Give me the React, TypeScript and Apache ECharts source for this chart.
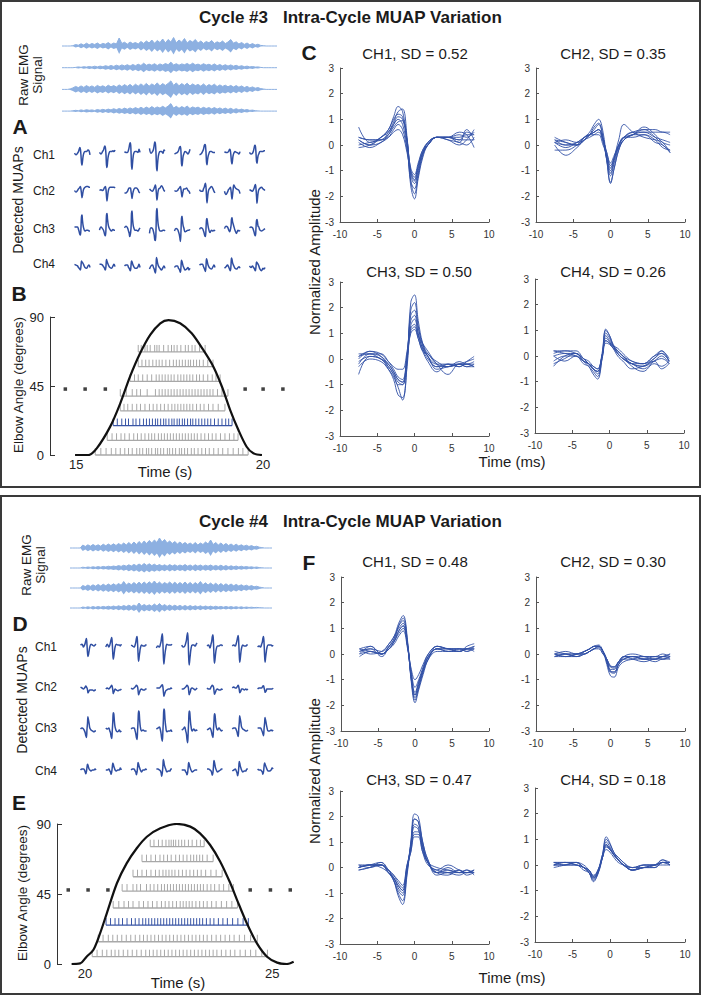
import React, { useEffect, useRef } from "react";
import * as echarts from "echarts";

const FONT = "'Liberation Sans', Arial, Helvetica, sans-serif";
const EMG_COLOR = "#8DB0E1";
const MUAP_COLOR = "#2F4EA2";
const TRACE_COLOR = "#3150A6";
const GRAY_SPIKE = "#A8A8A8";
const BLUE_SPIKE = "#3A56A6";
const AXIS_COLOR = "#555";

// ---------------- shared time base of every MUAP waveform (ms) ----------------
const WAVE_T = [-7.5, -6, -4.5, -3.5, -2.8, -2.2, -1.6, -1, -0.5, 0, 0.5, 1.1, 1.8, 3, 4.5, 6, 7, 8];

// ================= CYCLE #3 =================
const C3_SD = ["0.52", "0.35", "0.50", "0.26"];
// raw EMG half-amplitude envelopes (px), one sample every ~2.7 px
const C3_EMG1 = [0,0,0,0,0.3,1.5,0.8,2.2,1,2.8,1.2,2.5,1.5,3,1.2,2.6,1.8,3.4,1.5,3,2,8,2.5,3.8,1.8,4,2.4,3.5,2,4.5,2.6,5,3,6,2.8,5.5,3.5,7,3,6.5,4,8.5,3.2,6,3.8,7.5,3,5.5,4,6.5,3,5,2.6,4.5,3.2,5.5,2.5,4.2,3,5,2.4,4,6.5,2.8,4.2,2,3.5,1.6,3,1.2,2.4,1,1.8,0.6,0.3,0,0,0,0,0];
const C3_EMG2 = [0,0,0,0,0,0.3,0.8,0.4,1,0.6,1.2,0.7,1.5,0.8,1.6,1,2,1.2,2.2,1.3,2.5,1.5,2.8,1.8,3,1.6,3.2,2,3.5,2.2,4.5,2.4,3.6,2.5,4,2.2,3.8,2.6,4.2,3,5.5,2.8,4,2.5,3.8,3,4.2,2.6,4.5,2.8,3.6,2.4,4,2.6,3.5,2.2,3.8,2,3.2,1.8,3,1.6,2.8,1.5,2.4,1.2,2,1,1.6,0.8,1.2,0.6,0.8,0.3,0,0,0,0,0,0];
const C3_EMG3 = [0,0,0,0.5,1.5,3,1.8,3.5,2,3.8,2.2,3.5,2,4,2.5,3.6,2.2,4.2,2.6,3.8,2.4,4.5,2.8,4.8,3,5,2.8,5.2,3.2,5.5,3.5,6,3.2,5.5,3.8,6.5,3.5,5.8,4,6,8.5,4,6.5,3.6,5.8,4,6.2,3.4,5.5,3.8,5,3.2,5.5,3,4.8,3.5,5.2,2.8,4.5,3,4.2,2.6,4,2.4,3.8,2.2,3.5,1.8,3,1.5,2.5,1.2,1.8,0.8,0.4,0,0,0,0,0];
const C3_EMG4 = [0,0,0,0,0.3,0.8,0.4,1.2,0.6,1.4,0.8,1.2,0.6,1.6,0.9,1.8,1,2,1.2,2.4,1.4,2.6,1.6,3,1.8,3.2,2,3.5,2.2,3.8,2.4,4,2.6,4.5,2.8,4.2,3,4.8,3.2,5,7.5,3,4.8,2.8,4.5,3.2,5,2.6,4.2,3,4,2.4,3.8,2.6,3.5,2.2,3.6,2,3.2,1.8,3,1.6,2.8,1.4,2.4,1.2,2,1,1.5,0.7,1,0.4,0.2,0,0,0,0,0,0,0];

const C3_CH1 = [
  [0.1,-0.1,0.1,0.3,0.6,0.8,0.6,-0.2,-1.1,-1.4,-0.9,-0.3,0.1,0.3,0.3,0.5,0.4,-0.1],
  [0.2,0.0,0.3,0.5,0.8,1.0,0.8,-0.1,-1.4,-1.7,-1.1,-0.4,0.0,0.3,0.3,0.4,0.3,0.5],
  [0.3,0.2,0.2,0.5,0.9,1.3,1.4,0.3,-1.4,-1.9,-1.2,-0.4,0.1,0.3,0.3,0.2,0.6,0.2],
  [0.7,0.1,0.3,0.6,1.1,1.5,1.3,0.1,-1.6,-2.1,-1.3,-0.5,0.0,0.3,0.3,0.1,0.5,0.4],
  [0.0,0.1,0.2,0.4,0.7,0.9,0.95,0.2,-1.2,-1.5,-1.0,-0.3,0.0,0.3,0.2,0.0,0.2,0.6],
  [-0.1,0.0,0.3,0.6,1.0,1.2,1.1,0.2,-1.0,-1.35,-0.8,-0.3,0.0,0.3,0.3,0.2,0.2,0.2],
  [0.3,0.2,0.2,0.3,0.5,0.6,0.4,-0.3,-1.0,-1.25,-0.8,-0.2,0.1,0.3,0.2,0.1,0.0,0.3],
  [0.2,0.0,0.1,0.4,0.8,1.1,1.0,0.1,-0.9,-1.15,-0.7,-0.2,0.0,0.3,0.3,0.3,0.4,0.4],
];
const C3_CH2 = [
  [0.1,-0.1,0.1,0.3,0.4,0.5,0.6,0.2,-0.3,-0.8,-0.5,0.0,0.3,0.5,0.6,0.6,0.5,0.5],
  [0.1,0.2,0.1,0.2,0.4,0.5,0.6,0.2,-0.6,-1.2,-0.7,-0.1,0.3,0.5,0.5,0.5,0.5,0.4],
  [-0.2,-0.2,0.0,0.3,0.4,0.4,0.4,0.0,-0.4,-0.9,-0.5,-0.1,0.2,0.4,0.4,0.2,-0.1,-0.2],
  [0.3,0.1,0.0,0.2,0.4,0.6,0.8,0.3,-0.5,-1.1,-0.6,0.0,0.3,0.4,0.7,0.4,0.1,0.0],
  [0.1,0.0,0.1,0.3,0.4,0.5,0.6,0.2,-0.3,-0.7,-0.4,0.0,0.3,0.3,0.4,0.1,0.0,-0.3],
  [0.2,0.0,0.0,0.3,0.5,0.8,1.0,0.5,-0.6,-1.45,-0.9,-0.2,0.2,0.4,0.6,0.3,0.0,-0.2],
  [0.0,-0.4,-0.1,0.2,0.3,0.4,0.5,0.1,-0.5,-1.0,-0.5,0.2,0.8,0.5,0.3,0.2,0.1,-0.3],
  [0.2,0.1,0.0,0.2,0.4,0.7,0.85,0.3,-0.6,-1.5,-0.9,-0.2,0.2,0.4,0.5,0.3,0.2,0.1],
];
const C3_CH3 = [
  [0.2,0.2,0.2,-0.1,-0.4,-0.7,-0.8,0.2,1.5,1.7,1.0,0.4,0.0,-0.3,-0.2,-0.2,-0.3,-0.3],
  [-0.2,0.2,0.0,-0.2,-0.5,-0.8,-0.9,0.1,1.7,1.9,1.2,0.6,0.2,-0.1,-0.3,-0.1,-0.2,-0.2],
  [0.1,0.3,0.1,-0.3,-0.6,-1.0,-1.0,0.0,1.9,2.2,1.3,0.5,0.1,-0.2,-0.2,-0.3,-0.1,0.1],
  [-0.6,0.1,0.0,-0.4,-0.8,-1.4,-1.5,-0.2,2.2,2.5,1.5,0.6,0.1,-0.3,-0.3,-0.2,-0.2,-0.3],
  [-0.3,0.0,-0.1,-0.4,-0.7,-1.1,-1.6,-0.3,1.3,1.55,1.0,0.4,0.1,-0.4,-0.3,-0.2,-0.2,-0.1],
  [-0.1,0.1,0.0,-0.3,-0.6,-0.9,-1.0,0.0,1.1,1.25,0.8,0.3,-0.1,-0.5,-0.2,-0.3,-0.2,-0.3],
  [0.0,0.3,0.2,-0.1,-0.3,-0.4,-0.4,0.3,1.2,1.35,0.9,0.6,0.3,-0.2,-0.6,-0.2,-0.3,-0.2],
  [0.1,0.2,0.1,-0.2,-0.5,-0.8,-0.9,0.1,1.0,1.15,0.8,0.3,0.2,-0.2,-0.3,-0.2,-0.1,0.0],
];
const C3_CH4 = [
  [0.2,0.1,0.0,-0.2,-0.3,-0.4,-0.5,0.0,0.6,0.5,0.4,0.3,0.1,-0.2,-0.3,0.0,0.1,-0.2],
  [0.2,0.2,0.1,-0.1,-0.2,-0.4,-0.5,0.0,0.8,0.6,0.4,0.2,0.0,-0.2,-0.3,0.0,0.2,-0.1],
  [0.0,0.1,0.1,-0.2,-0.3,-0.5,-0.6,0.0,0.6,0.5,0.3,0.1,-0.1,-0.3,-0.3,-0.1,0.2,-0.2],
  [-0.4,0.0,0.1,-0.2,-0.4,-0.7,-0.9,-0.1,1.05,0.8,0.4,0.1,-0.1,-0.3,-0.5,-0.2,0.0,-0.3],
  [-0.2,0.0,0.0,-0.3,-0.4,-0.6,-0.8,-0.1,0.7,0.55,0.3,0.0,-0.2,-0.5,-0.4,-0.2,-0.5,-0.3],
  [0.1,0.2,0.2,-0.1,-0.3,-0.5,-0.7,0.0,0.9,0.7,0.4,0.1,-0.1,-0.3,-0.4,-0.1,0.1,-0.2],
  [-0.3,-0.1,0.1,-0.1,-0.3,-0.5,-0.6,0.1,1.0,0.8,0.45,0.2,0.0,-0.3,-0.4,-0.2,-0.1,-0.3],
  [0.0,-0.2,0.0,-0.2,-0.3,-0.5,-0.6,-0.1,0.5,0.45,0.3,0.2,0.0,-0.4,-0.6,-0.3,-0.4,-0.2],
];

const C3_ANGLE_T = [14.97,15.33,15.55,15.91,16.18,16.44,16.71,16.98,17.25,17.47,17.78,18.09,18.40,18.67,18.90,19.12,19.34,19.56,19.74,19.97];
const C3_ANGLE_V = [0,0,4.3,18.5,33.7,51.1,66.3,78.3,85.9,88.0,85.9,79.4,68.5,57.6,44.5,29.3,16.3,5.4,1.1,0];
const C3_DOT_T = [14.71,15.24,15.78,19.52,20.0,20.53];
const C3_DOT_V = 43;
const C3_XTICKS = [15, 20];
const C3_ROW_LEVEL = [0, 9.6, 19.2, 28.8, 38.4, 48, 57.6, 67.2];
const C3_ROW0 = [15.51,15.66,15.80,15.94,16.06,16.18,16.30,16.40,16.50,16.62,16.70,16.78,16.88,16.94,17.02,17.12,17.18,17.26,17.34,17.44,17.50,17.58,17.66,17.76,17.82,17.90,17.98,18.08,18.16,18.26,18.36,18.46,18.56,18.68,18.80,18.92,19.06,19.20,19.34,19.46,19.60];
const C3_ROW1 = [15.83,15.96,16.08,16.20,16.30,16.42,16.54,16.64,16.74,16.84,16.94,17.02,17.10,17.20,17.28,17.36,17.44,17.52,17.60,17.68,17.76,17.84,17.92,18.00,18.08,18.16,18.24,18.34,18.44,18.54,18.64,18.74,18.86,18.98,19.10,19.22,19.33];
const C3_ROW2 = [15.99,16.10,16.22,16.32,16.40,16.52,16.60,16.70,16.80,16.88,16.96,17.04,17.12,17.18,17.26,17.34,17.40,17.48,17.56,17.62,17.70,17.76,17.84,17.90,17.98,18.06,18.12,18.20,18.28,18.36,18.44,18.52,18.60,18.70,18.80,18.90,19.00,19.08,19.17];
const C3_ROW3 = [16.18,16.28,16.38,16.50,16.62,16.72,16.84,16.96,17.06,17.16,17.26,17.36,17.46,17.56,17.64,17.72,17.80,17.88,17.96,18.04,18.12,18.22,18.32,18.42,18.54,18.66,18.80,18.98];
const C3_ROW4 = [16.18,16.34,16.50,16.62,16.72,16.90,17.12,17.22,17.30,17.38,17.46,17.54,17.62,17.70,17.78,17.86,17.94,18.02,18.10,18.18,18.26,18.34,18.42,18.50,18.58,18.66,18.78,18.90,19.06];
const C3_ROW5 = [16.44,16.56,16.66,16.78,16.90,17.02,17.14,17.22,17.30,17.38,17.46,17.54,17.62,17.72,17.80,17.88,17.96,18.04,18.12,18.22,18.30,18.40,18.52,18.64,18.74,18.85];
const C3_ROW6 = [16.66,16.76,16.86,16.95,17.05,17.14,17.22,17.30,17.40,17.50,17.60,17.68,17.76,17.84,17.92,18.00,18.06,18.14,18.22,18.30,18.40,18.52,18.66];
const C3_ROW7 = [16.66,16.74,16.84,16.90,16.98,17.10,17.16,17.22,17.34,17.46,17.55,17.62,17.70,17.80,17.92,18.00,18.10,18.18,18.30,18.45];

// ================= CYCLE #4 =================
const C4_SD = ["0.48", "0.30", "0.47", "0.18"];
const C4_EMG1 = [0,0,0,0,0,3,1.5,3.2,1.8,3.5,2,3.2,1.8,3.8,2.2,4,2.4,4.2,2.5,4.5,2.8,5,3,5.5,3.2,6,3.5,6.5,4,7,4.5,7.5,5,8,5.5,10,6,8.5,5,7,4.5,6.5,4,6,3.8,5.5,3.5,5,3.2,5.5,3,5,3.5,6,4,8,3.5,5.5,3,5,2.8,4.5,2.5,4,2.2,3.8,2,3.2,1.8,2.8,1.5,2.4,1.2,1.8,0.8,0.4,0,0,0,0];
const C4_EMG2 = [0,0,0,0,0,0.8,0.4,1,0.6,1.2,0.7,1.4,0.8,1.6,1,1.8,1.2,2,1.4,2.4,1.6,2.8,1.8,3.2,2,3.6,2.2,4,2.4,4.5,2.6,4.2,2.4,3.8,2.2,3.5,2,3.2,1.8,3.4,2,3.2,1.8,3,2,3.4,1.8,3,1.6,3.2,1.8,3,1.6,2.8,1.8,3,1.6,2.6,1.5,2.8,1.4,2.4,1.2,2.2,1.2,2,1,1.8,0.9,1.5,0.8,1.2,0.6,1,0.4,0.2,0,0,0,0];
const C4_EMG3 = [0,0,0,0,0,2.5,1.4,3,1.6,3.2,1.8,3.5,2,3.8,2.2,4,2.4,4.2,2.6,4.5,2.8,6.5,3,5,3.2,5.5,3.4,5.8,3.6,6,3.8,6.2,4,7,3.8,6,3.5,5.5,3.8,6,3.6,5.8,3.4,5.5,3.6,6,3.4,5.6,3.2,5.4,3.4,6.5,3.2,5.2,3,5,2.8,4.8,2.6,4.5,2.5,4.2,2.4,4,2.2,3.6,2,3.2,1.8,2.8,1.5,2.4,1.2,1.8,0.9,0.5,0,0,0,0];
const C4_EMG4 = [0,0,0,0,0,1,0.5,1.2,0.6,1.4,0.7,1.5,0.8,1.6,0.9,1.8,1,2,1.1,2.2,1.2,2.5,1.4,2.8,1.5,3,1.6,5,1.8,3.5,2,3.2,1.8,4,2,4.5,1.8,3.4,1.6,3,1.5,2.8,1.4,2.6,1.3,2.5,1.2,2.4,1.2,2.2,1.1,2.2,1,2,1,1.9,0.9,1.8,0.9,1.6,0.8,1.5,0.8,1.4,0.7,1.3,0.6,1.2,0.5,1,0.5,0.8,0.4,0.6,0.3,0.2,0,0,0,0];

const C4_CH1 = [
  [0.2,0.3,0.0,0.2,0.4,0.7,0.9,0.2,-0.6,-1.0,-0.8,-0.4,0.0,0.3,0.2,0.1,0.2,0.3],
  [0.0,0.3,0.0,0.2,0.5,0.8,1.0,0.3,-0.7,-1.3,-1.0,-0.5,0.0,0.3,0.2,0.2,0.1,0.3],
  [0.2,0.1,0.0,0.2,0.5,0.9,1.1,0.3,-0.8,-1.5,-1.1,-0.6,-0.1,0.2,0.1,0.1,0.2,0.2],
  [-0.1,0.1,0.0,0.3,0.6,1.1,1.4,0.4,-1.0,-1.8,-1.3,-0.7,-0.2,0.3,0.2,0.2,0.2,0.3],
  [0.2,0.0,0.1,0.4,0.7,1.2,1.5,0.5,-1.1,-1.9,-1.4,-0.8,-0.2,0.2,0.2,0.1,0.3,0.4],
  [0.1,0.2,-0.1,0.3,0.6,1.1,1.3,0.4,-1.0,-1.7,-1.3,-0.7,-0.2,0.1,0.1,0.2,0.2,0.1],
  [0.1,0.2,0.1,0.4,0.7,1.0,1.2,0.3,-0.9,-1.6,-1.2,-0.6,-0.1,0.2,0.1,0.1,0.2,0.2],
  [0.0,0.1,0.0,0.3,0.5,0.9,1.1,0.3,-0.9,-1.6,-1.1,-0.6,-0.1,0.2,0.2,0.2,0.1,0.2],
];
const C4_CH2 = [
  [0.1,0.0,-0.1,0.0,0.1,0.2,0.2,0.0,-0.2,-0.5,-0.55,-0.3,-0.2,-0.2,-0.2,-0.3,-0.2,-0.2],
  [-0.1,0.0,-0.1,0.0,0.1,0.2,0.3,0.1,-0.2,-0.6,-0.6,-0.3,-0.1,-0.2,-0.3,-0.2,-0.2,-0.1],
  [0.0,-0.1,0.0,0.1,0.2,0.3,0.3,0.1,-0.3,-0.7,-0.75,-0.4,-0.2,-0.1,-0.2,-0.2,-0.1,-0.1],
  [0.0,0.0,0.0,0.1,0.2,0.3,0.35,0.1,-0.4,-0.85,-0.9,-0.5,-0.3,-0.2,-0.1,-0.1,0.0,-0.1],
  [-0.1,-0.1,0.0,0.1,0.2,0.3,0.3,0.1,-0.3,-0.7,-0.7,-0.4,-0.1,0.0,-0.1,-0.2,-0.1,0.0],
  [0.0,-0.1,-0.1,0.1,0.2,0.3,0.3,0.1,-0.3,-0.65,-0.7,-0.4,-0.2,-0.1,-0.2,-0.2,-0.1,-0.2],
  [0.0,0.1,0.0,0.0,0.1,0.2,0.3,0.1,-0.2,-0.5,-0.5,-0.3,-0.1,-0.1,-0.2,-0.1,-0.2,-0.1],
  [-0.1,0.0,0.0,0.0,0.1,0.2,0.25,0.0,-0.2,-0.45,-0.5,-0.3,-0.1,-0.1,-0.1,-0.1,-0.1,0.0],
];
const C4_CH3 = [
  [0.0,0.1,0.0,-0.2,-0.4,-0.7,-0.9,0.0,0.6,1.3,1.3,0.6,0.1,-0.1,-0.2,-0.3,-0.2,-0.2],
  [0.1,0.0,0.1,-0.2,-0.4,-0.8,-1.0,-0.1,0.8,1.7,1.6,0.8,0.2,-0.2,-0.3,-0.1,-0.3,-0.2],
  [0.0,0.1,0.1,-0.2,-0.5,-0.9,-1.1,-0.1,0.9,1.9,1.8,0.9,0.2,-0.2,-0.1,-0.2,-0.2,-0.2],
  [0.0,0.1,0.2,-0.1,-0.5,-1.0,-1.3,-0.2,1.0,2.1,2.0,1.0,0.3,-0.3,-0.2,-0.2,-0.1,-0.3],
  [-0.1,0.0,0.2,-0.2,-0.5,-1.1,-1.45,-0.3,0.9,1.9,1.8,1.0,0.3,-0.2,0.0,-0.2,-0.1,-0.2],
  [-0.1,0.0,0.1,-0.1,-0.4,-0.7,-0.9,0.0,0.8,1.6,1.5,0.8,0.2,-0.1,0.1,-0.1,-0.2,-0.1],
  [0.0,0.1,0.1,-0.1,-0.3,-0.6,-0.8,0.1,0.7,1.4,1.4,0.7,0.2,0.0,-0.1,-0.2,-0.2,-0.1],
  [0.1,0.1,0.1,-0.1,-0.3,-0.5,-0.7,0.1,0.6,1.2,1.2,0.6,0.2,-0.2,-0.2,-0.1,-0.2,-0.1],
];
const C4_CH4 = [
  [0.0,0.1,0.1,0.0,-0.2,-0.4,-0.2,0.3,0.6,0.5,0.3,0.1,0.0,-0.1,0.0,0.0,0.1,0.0],
  [0.0,0.0,0.1,-0.1,-0.2,-0.45,-0.2,0.3,0.7,0.6,0.4,0.2,0.0,-0.1,0.0,0.0,0.2,0.0],
  [0.0,0.1,0.1,-0.1,-0.2,-0.5,-0.25,0.3,0.8,0.6,0.4,0.2,0.0,-0.2,0.0,0.0,0.1,0.0],
  [0.1,0.1,0.0,-0.1,-0.3,-0.65,-0.3,0.4,1.1,0.85,0.5,0.3,0.1,-0.2,-0.1,-0.1,0.1,0.1],
  [0.0,0.0,0.0,-0.2,-0.3,-0.5,-0.3,0.3,0.8,0.65,0.4,0.2,0.0,-0.2,-0.1,0.0,0.0,0.0],
  [0.1,0.1,0.0,-0.1,-0.3,-0.55,-0.3,0.4,1.0,0.8,0.5,0.2,0.0,-0.2,-0.1,0.0,0.1,0.1],
  [-0.1,0.0,0.1,-0.1,-0.3,-0.6,-0.35,0.3,0.9,0.7,0.4,0.2,0.0,-0.2,-0.1,-0.1,0.1,0.1],
  [0.1,0.0,0.0,-0.1,-0.2,-0.45,-0.2,0.4,0.75,0.6,0.45,0.3,0.1,-0.1,-0.1,0.0,0.2,0.1],
];

const C4_ANGLE_T = [19.64,19.87,20.04,20.22,20.40,20.58,20.85,21.11,21.38,21.65,22.01,22.45,22.81,23.07,23.34,23.61,23.88,24.06,24.32,24.59,24.86,25.13,25.39,25.57];
const C4_ANGLE_V = [0,0.4,4.7,9.0,19.7,32.6,51.9,64.7,74.4,81.8,87.2,90,88.3,84.0,76.5,65.8,51.9,41.1,26.2,13.3,4.7,0.9,0,1.5];
const C4_DOT_T = [19.55,20.08,20.61,24.41,24.95,25.48];
const C4_DOT_V = 47.6;
const C4_XTICKS = [20, 25];
const C4_ROW_LEVEL = [4.7, 14.3, 25, 36, 46.9, 56.1, 65.8, 75.4];
const C4_ROW0 = [20.19,20.32,20.46,20.58,20.70,20.80,20.90,21.02,21.14,21.26,21.38,21.50,21.62,21.72,21.82,21.92,22.02,22.12,22.22,22.32,22.42,22.52,22.62,22.72,22.82,22.92,23.02,23.12,23.22,23.32,23.42,23.52,23.64,23.76,23.88,24.00,24.14,24.28,24.42,24.56,24.72,24.87];
const C4_ROW1 = [20.35,20.48,20.62,20.74,20.86,20.98,21.10,21.22,21.34,21.46,21.56,21.66,21.76,21.86,21.96,22.06,22.16,22.26,22.36,22.46,22.56,22.66,22.76,22.86,22.96,23.06,23.16,23.26,23.38,23.50,23.62,23.74,23.86,23.98,24.12,24.26,24.42,24.60];
const C4_ROW2 = [20.56,20.68,20.80,20.90,21.00,21.12,21.24,21.34,21.44,21.54,21.62,21.70,21.78,21.86,21.94,22.02,22.10,22.18,22.26,22.34,22.42,22.50,22.58,22.66,22.74,22.82,22.90,22.98,23.06,23.14,23.24,23.34,23.44,23.56,23.68,23.80,23.94,24.08,24.22,24.36];
const C4_ROW3 = [20.75,20.90,21.04,21.16,21.28,21.44,21.56,21.68,21.80,21.92,22.04,22.14,22.24,22.34,22.44,22.54,22.62,22.70,22.78,22.86,22.96,23.06,23.16,23.26,23.38,23.50,23.64,23.78,23.92,24.07];
const C4_ROW4 = [20.99,21.12,21.28,21.38,21.48,21.64,21.74,21.84,21.94,22.04,22.12,22.20,22.28,22.36,22.44,22.52,22.60,22.68,22.76,22.84,22.92,23.00,23.08,23.16,23.26,23.36,23.46,23.58,23.70,23.84,23.96];
const C4_ROW5 = [21.28,21.40,21.52,21.64,21.76,21.88,21.98,22.08,22.16,22.24,22.32,22.40,22.50,22.60,22.70,22.80,22.90,23.00,23.10,23.22,23.36,23.50,23.66];
const C4_ROW6 = [21.52,21.64,21.76,21.88,22.00,22.10,22.20,22.30,22.42,22.52,22.62,22.72,22.82,22.90,22.98,23.06,23.14,23.26,23.42];
const C4_ROW7 = [21.74,21.84,21.96,22.06,22.16,22.24,22.30,22.36,22.42,22.50,22.58,22.66,22.76,22.86,22.98,23.08,23.18];

// ---------------- layout (pixels) ----------------
const LAYOUT3 = {
  box: [1, 1, 699, 486], titleY: 17,
  emg: { left: 62, width: 215, y0: 46, step: 21.7 },
  muap: { x0: 82, slot: 25, y0: 154, step: 37.3, ppu: 8 },
  chX: 44, chY: [155, 191, 229, 264],
  elb: { left: 50, top: 317, width: 243, height: 138, tMin: 14.3, tMax: 20.8, step: 0.1 },
  wave: [{ l: 340, t: 68, w: 149, h: 154 }, { l: 536, t: 68, w: 149, h: 154 }, { l: 340, t: 282, w: 149, h: 154 }, { l: 535, t: 279, w: 149, h: 154 }],
  sub: [[415, 53], [613, 53], [419, 271], [613, 271]],
  letters: [[20, 126], [19, 293], [309, 52]],
  raw: [[23, 75], [37, 75]], det: [18, 200], elbLbl: [18, 385],
  timeS: [165, 471], norm: [314, 262], timeMs: [512, 461],
};
const LAYOUT4 = {
  box: [1, 496, 699, 498], titleY: 521,
  emg: { left: 70, width: 202, y0: 548, step: 20 },
  muap: { x0: 88, slot: 25.3, y0: 647, step: 41, ppu: 9.5 },
  chX: 46, chY: [647, 687, 728, 771],
  elb: { left: 57, top: 824, width: 249, height: 140, tMin: 19.25, tMax: 25.9, step: 0.05 },
  wave: [{ l: 341, t: 577, w: 148, h: 154 }, { l: 536, t: 577, w: 149, h: 154 }, { l: 340, t: 791, w: 149, h: 153 }, { l: 535, t: 788, w: 150, h: 154 }],
  sub: [[415, 561], [613, 561], [419, 779], [613, 779]],
  letters: [[20, 623], [19, 802], [309, 562]],
  raw: [[26, 565], [40, 565]], det: [22, 700], elbLbl: [22, 893],
  timeS: [178, 982], norm: [314, 771], timeMs: [512, 977],
};

const CYCLES = [
  {
    title: "Cycle #3", letters: ["A", "B", "C"], L: LAYOUT3, sd: C3_SD,
    emg: [C3_EMG1, C3_EMG2, C3_EMG3, C3_EMG4], muaps: [C3_CH1, C3_CH2, C3_CH3, C3_CH4],
    angT: C3_ANGLE_T, angV: C3_ANGLE_V, dotT: C3_DOT_T, dotV: C3_DOT_V, xticks: C3_XTICKS,
    rows: [C3_ROW0, C3_ROW1, C3_ROW2, C3_ROW3, C3_ROW4, C3_ROW5, C3_ROW6, C3_ROW7], levels: C3_ROW_LEVEL, blueRow: 2,
  },
  {
    title: "Cycle #4", letters: ["D", "E", "F"], L: LAYOUT4, sd: C4_SD,
    emg: [C4_EMG1, C4_EMG2, C4_EMG3, C4_EMG4], muaps: [C4_CH1, C4_CH2, C4_CH3, C4_CH4],
    angT: C4_ANGLE_T, angV: C4_ANGLE_V, dotT: C4_DOT_T, dotV: C4_DOT_V, xticks: C4_XTICKS,
    rows: [C4_ROW0, C4_ROW1, C4_ROW2, C4_ROW3, C4_ROW4, C4_ROW5, C4_ROW6, C4_ROW7], levels: C4_ROW_LEVEL, blueRow: 2,
  },
];

function buildOption() {
  const grid: any[] = [];
  const xAxis: any[] = [];
  const yAxis: any[] = [];
  const series: any[] = [];
  const graphic: any[] = [];

  const addGrid = (r: any, xa: any, ya: any) => {
    const i = grid.length;
    grid.push({ left: r.l, top: r.t, width: r.w, height: r.h });
    xAxis.push({ gridIndex: i, ...xa });
    yAxis.push({ gridIndex: i, ...ya });
    return i;
  };
  const hidden = (min: number, max: number) => ({ type: "value", min, max, show: false });
  const addText = (x: number, y: number, t: string, size: number, o: any = {}) => {
    graphic.push({
      type: "text", x, y, rotation: o.rot || 0, silent: true, z: 100,
      style: {
        text: t, fontSize: size, fontFamily: FONT, fontWeight: o.bold ? "bold" : "normal",
        fill: o.color || "#1b1b1b", align: o.align || "center", verticalAlign: "middle",
      },
    });
  };

  const axisLine = { show: true, onZero: false, lineStyle: { color: AXIS_COLOR, width: 1 } };
  const axisTick = { show: true, inside: true, length: 3, lineStyle: { color: AXIS_COLOR } };

  CYCLES.forEach((cy, c) => {
    const L: any = cy.L;
    graphic.push({
      type: "rect", silent: true, z: 100,
      shape: { x: L.box[0], y: L.box[1], width: L.box[2], height: L.box[3] },
      style: { fill: "none", stroke: "#3a3a3a", lineWidth: 2 },
    });
    addText(199, L.titleY, cy.title, 17, { bold: true, align: "left" });
    addText(283, L.titleY, "Intra-Cycle MUAP Variation", 17, { bold: true, align: "left" });
    cy.letters.forEach((lt, i) => addText(L.letters[i][0], L.letters[i][1], lt, 21, { bold: true }));
    addText(L.raw[0][0], L.raw[0][1], "Raw EMG", 13.5, { rot: Math.PI / 2 });
    addText(L.raw[1][0], L.raw[1][1], "Signal", 13.5, { rot: Math.PI / 2 });
    addText(L.det[0], L.det[1], "Detected MUAPs", 14, { rot: Math.PI / 2 });
    L.chY.forEach((y: number, k: number) => addText(L.chX, y, `Ch${k + 1}`, 12));
    addText(L.elbLbl[0], L.elbLbl[1], "Elbow Angle (degrees)", 13.5, { rot: Math.PI / 2 });
    addText(L.timeS[0], L.timeS[1], "Time (s)", 15);
    addText(L.norm[0], L.norm[1], "Normalized Amplitude", 15, { rot: Math.PI / 2 });
    addText(L.timeMs[0], L.timeMs[1], "Time (ms)", 15);
    L.sub.forEach((p: number[], k: number) => addText(p[0], p[1], `CH${k + 1}, SD = ${cy.sd[k]}`, 15));

    // ---- raw EMG bands ----
    const E = L.emg;
    const eg = addGrid(
      { l: E.left, t: E.y0 - 15, w: E.width, h: 100 },
      { type: "category", data: cy.emg[0].map((_: number, i: number) => i), boundaryGap: false, show: false },
      hidden(0, 100)
    );
    cy.emg.forEach((env: number[], k: number) => {
      const off = 85 - k * E.step;
      const stack = `emg${c}_${k}`;
      series.push({
        type: "line", xAxisIndex: eg, yAxisIndex: eg, stack, silent: true, symbol: "none",
        data: env.map((a) => off - a), lineStyle: { opacity: 0, width: 0 },
      });
      series.push({
        type: "line", xAxisIndex: eg, yAxisIndex: eg, stack, silent: true, symbol: "none",
        data: env.map((a) => 2 * a), lineStyle: { color: EMG_COLOR, width: 1 },
        areaStyle: { color: EMG_COLOR, opacity: 1 },
      });
    });

    // ---- detected MUAPs ----
    const M = L.muap;
    const stepU = M.step / M.ppu;
    const mg = addGrid(
      { l: M.x0 - 12.5, t: M.y0 - 3 * M.ppu, w: 8 * M.slot, h: (6 + 3 * stepU) * M.ppu },
      hidden(-12.5, 8 * M.slot - 12.5),
      hidden(-3 - 3 * stepU, 3)
    );
    cy.muaps.forEach((chan: number[][], k: number) =>
      chan.forEach((w: number[], i: number) =>
        series.push({
          type: "line", xAxisIndex: mg, yAxisIndex: mg, silent: true, symbol: "none", smooth: 0.4,
          data: WAVE_T.map((t, j) => [i * M.slot + t, -k * stepU + w[j]]),
          lineStyle: { color: MUAP_COLOR, width: 1.5 },
        })
      )
    );

    // ---- elbow angle + raster ----
    const B = L.elb;
    const ticks = cy.xticks;
    const bg = addGrid(
      { l: B.left, t: B.top, w: B.width, h: B.height },
      {
        type: "value", min: B.tMin, max: B.tMax, interval: B.step,
        axisLine: { show: false }, axisTick: { show: false }, splitLine: { show: false },
        axisLabel: {
          fontSize: 13, color: "#222", margin: 3, fontFamily: FONT,
          formatter: (v: number) => {
            const r = Math.round(v);
            return Math.abs(v - r) < 1e-6 && ticks.includes(r) ? String(r) : "";
          },
        },
      },
      {
        type: "value", min: 0, max: 90, interval: 45,
        axisLine: { show: true, onZero: false, lineStyle: { color: "#333", width: 1 } },
        axisTick: { show: true, inside: true, length: 5, lineStyle: { color: "#333" } },
        axisLabel: { fontSize: 13, color: "#222", margin: 6, fontFamily: FONT },
        splitLine: { show: false },
      }
    );
    const rows = cy.rows;
    const levels = cy.levels;
    const blue = cy.blueRow;
    series.push({
      type: "custom", xAxisIndex: bg, yAxisIndex: bg, silent: true, z: 2,
      data: rows.map((r: number[], ri: number) => [r[0], levels[ri]]),
      encode: { x: 0, y: 1 },
      renderItem: (params: any, api: any) => {
        const ri = params.dataIndex;
        const row = rows[ri];
        const lv = levels[ri];
        const color = ri === blue ? BLUE_SPIKE : GRAY_SPIKE;
        const p0 = api.coord([row[0], lv]);
        const p1 = api.coord([row[row.length - 1], lv]);
        const children: any[] = [
          { type: "line", shape: { x1: p0[0], y1: p0[1], x2: p1[0], y2: p1[1] }, style: { stroke: color, lineWidth: 1.3 } },
        ];
        row.forEach((t: number) => {
          const p = api.coord([t, lv]);
          children.push({ type: "line", shape: { x1: p[0], y1: p[1], x2: p[0], y2: p[1] - 7 }, style: { stroke: color, lineWidth: 1 } });
        });
        return { type: "group", children };
      },
    });
    series.push({
      type: "line", xAxisIndex: bg, yAxisIndex: bg, silent: true, symbol: "none", smooth: 0.3, z: 5,
      data: cy.angT.map((t: number, i: number) => [t, cy.angV[i]]),
      lineStyle: { color: "#111", width: 2.2 },
    });
    series.push({
      type: "scatter", xAxisIndex: bg, yAxisIndex: bg, silent: true, symbol: "rect", symbolSize: 3.5, z: 5,
      data: cy.dotT.map((t: number) => [t, cy.dotV]),
      itemStyle: { color: "#111" },
    });

    // ---- overlaid MUAP waveforms ----
    cy.muaps.forEach((chan: number[][], k: number) => {
      const wg = addGrid(
        L.wave[k],
        {
          type: "value", min: -10, max: 10, interval: 5, axisLine, axisTick, splitLine: { show: false },
          axisLabel: { fontSize: 10, color: "#333", margin: 7, fontFamily: FONT },
        },
        {
          type: "value", min: -3, max: 3, interval: 1, axisLine, axisTick, splitLine: { show: false },
          axisLabel: { fontSize: 10, color: "#333", margin: 6, fontFamily: FONT },
        }
      );
      chan.forEach((w: number[]) =>
        series.push({
          type: "line", xAxisIndex: wg, yAxisIndex: wg, silent: true, symbol: "none", smooth: 0.4,
          data: WAVE_T.map((t, j) => [t, w[j]]),
          lineStyle: { color: TRACE_COLOR, width: 0.9 },
        })
      );
    });
  });

  return { animation: false, backgroundColor: "#ffffff", grid, xAxis, yAxis, series, graphic };
}

export default function App() {
  const ref = useRef<HTMLDivElement>(null);
  useEffect(() => {
    document.body.style.margin = "0";
    if (!ref.current) return;
    const chart = echarts.init(ref.current, undefined, { renderer: "svg" });
    chart.setOption(buildOption() as any);
    return () => chart.dispose();
  }, []);
  return <div ref={ref} style={{ position: "absolute", left: 0, top: 0, width: 702, height: 998, background: "#fff" }} />;
}
